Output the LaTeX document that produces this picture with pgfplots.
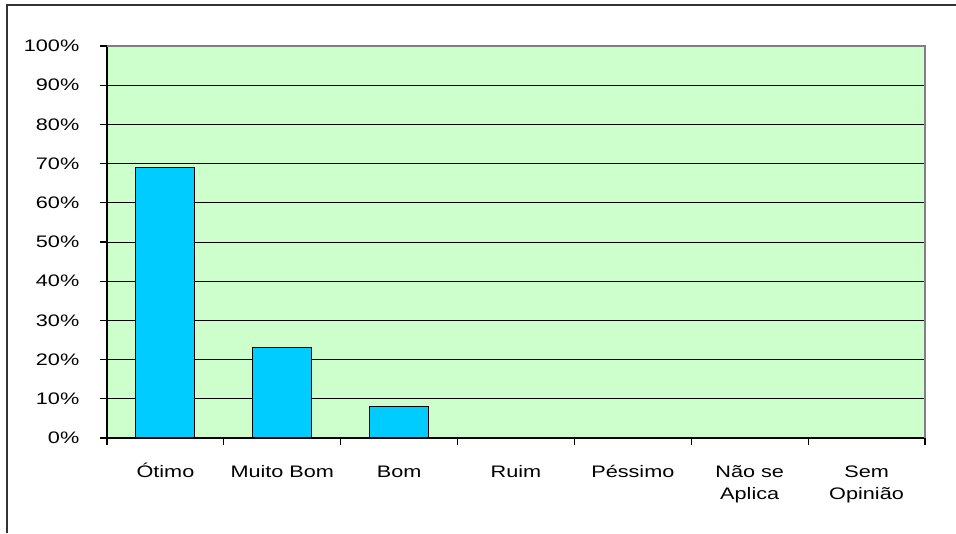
\documentclass[border=0pt]{standalone}
\usepackage{pgfplots}
\pgfplotsset{compat=1.18}
\usepackage{fontspec}
\setmainfont{Liberation Sans}[FakeStretch=1.3]
\definecolor{bgreen}{HTML}{CCFFCC}
\definecolor{bcyan}{HTML}{00CCFF}
\newcommand{\hs}{\vphantom{Ó}}
\begin{document}
\begin{tikzpicture}
\path[use as bounding box] (-80.25pt,-71.25pt) rectangle (636.75pt,328.5pt);
\draw[line width=1.5pt, black!80] (-75pt,-71.25pt) -- (-75pt,324.75pt) -- (636.75pt,324.75pt);
\begin{axis}[
  scale only axis,
  width=613.5pt, height=294pt,
  at={(0,0)}, anchor=south west,
  xmin=-0.5, xmax=6.5,
  ymin=0, ymax=100,
  axis x line*=bottom,
  axis y line*=left,
  axis line style={black, line width=0.8pt, -},
  axis background/.style={fill=bgreen},
  ytick={0,10,...,100},
  yticklabel={\pgfmathparse{int(\tick)}\pgfmathresult\%},
  ymajorgrids,
  major grid style={black, line width=0.7pt},
  xtick={0,...,6},
  xticklabels={\hs Ótimo, \hs Muito Bom, \hs Bom, \hs Ruim, \hs Péssimo, {\hs Não se\\Aplica}, {\hs Sem\\Opinião}},
  minor xtick={-0.5,0.5,...,6.5},
  major x tick style={draw=none},
  minor tick length=5pt,
  major tick length=5.25pt,
  tick align=outside,
  tick style={black, line width=0.8pt},
  ticklabel style={font=\fontsize{12.5}{16.5}\selectfont},
  xticklabel style={align=center, anchor=north, yshift=-10pt},
  yticklabel style={xshift=-12pt},
  /pgf/number format/assume math mode=true,
  clip=false,
]
\addplot[ybar, bar width=44.25pt, fill=bcyan, draw=black, line width=0.8pt]
  coordinates {(0,69) (1,23) (2,8) (3,0) (4,0) (5,0) (6,0)};
\draw[gray, line width=0.8pt] (rel axis cs:0,1) -- (rel axis cs:1,1) -- (rel axis cs:1,0);
\end{axis}
\end{tikzpicture}
\end{document}
